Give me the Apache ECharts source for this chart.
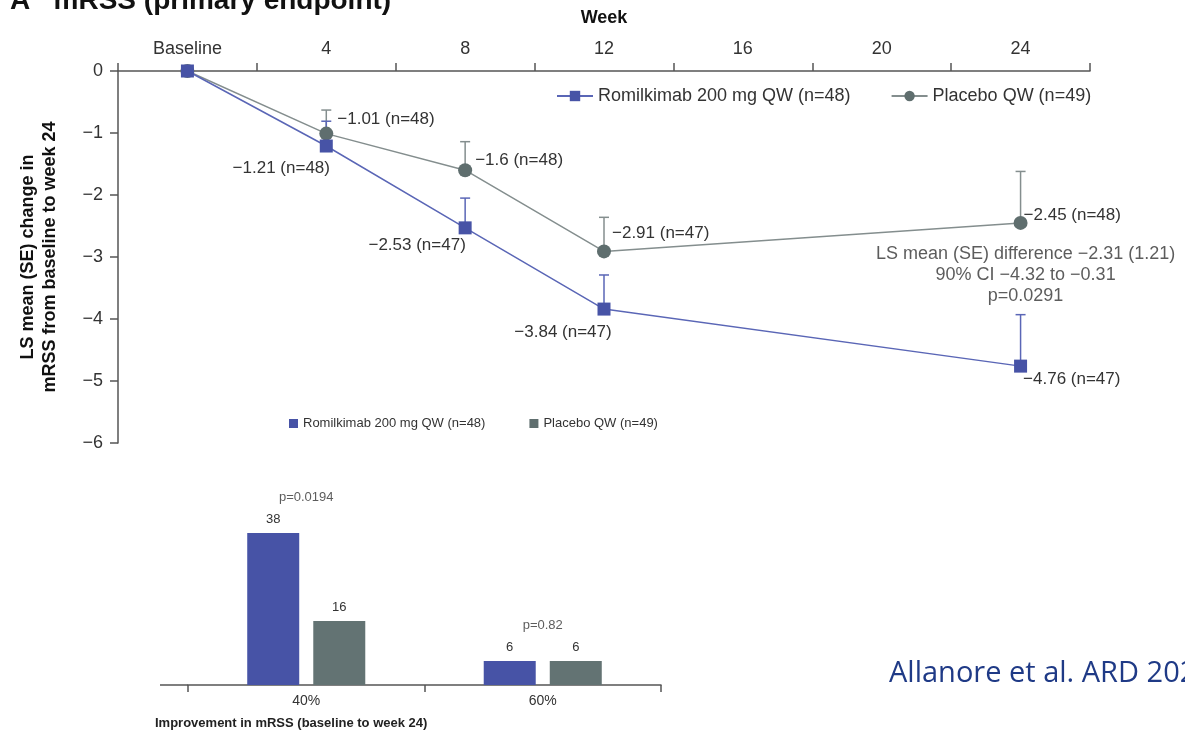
<!DOCTYPE html>
<html>
<head>
<meta charset="utf-8">
<script src="https://cdn.jsdelivr.net/npm/echarts@6/dist/echarts.min.js"></script>
<style>
  html, body { margin: 0; padding: 0; background: #fff; }
  #chart { width: 1185px; height: 731px; }
</style>
</head>
<body>
<div id="chart"></div>
<script>
// ---- mRSS change from baseline (LS mean, SE) ----
const weeks = ['Baseline', '4', '8', '12', '16', '20', '24'];
const romilName = 'Romilkimab 200 mg QW (n=48)';
const placeboName = 'Placebo QW (n=49)';
const romilMean = [0, -1.21, -2.53, -3.84, null, null, -4.76];
const romilSE = [null, 0.40, 0.48, 0.55, null, null, 0.83];
const romilN = [null, 48, 47, 47, null, null, 47];
const placeboMean = [0, -1.01, -1.6, -2.91, null, null, -2.45];
const placeboSE = [null, 0.38, 0.46, 0.55, null, null, 0.83];
const placeboN = [null, 48, 48, 47, null, null, 48];
const week24Note = ['LS mean (SE) difference \u22122.31 (1.21)', '90% CI \u22124.32 to \u22120.31', 'p=0.0291'];

// ---- responders by mRSS improvement at week 24 ----
const improvementCats = ['40%', '60%'];
const romilResponders = [38, 6];
const placeboResponders = [16, 6];
const responderP = ['p=0.0194', 'p=0.82'];

const BLUE = '#4753a6';
const BLUE_LINE = '#5a66b6';
const GREY = '#5f6e6e';
const GREY_LINE = '#848e8e';
const BAR_GREY = '#637373';
const TXT = '#333';
const AXIS = '#555';
const FONT = 'Liberation Sans, Arial, sans-serif';

const minus = v => String(v).replace('-', '\u2212');

// label placement per point (side of the marker + nudge)
const romilLabelPos = [null, ['bottom', [-45, 2]], ['bottom', [-48, -3]], ['bottom', [-41, 3]], null, null, ['right', [-9, 13]]];
const placeboLabelPos = [null, ['right', [-1, -14]], ['right', [-2, -10]], ['right', [-4, -18]], null, null, ['right', [-9, -8]]];

function lineData(means, ns, pos) {
  return means.map((v, i) => {
    if (v === null) return null;
    if (!ns[i]) return { value: v, label: { show: false } };
    return {
      value: v,
      label: {
        show: true, position: pos[i][0], offset: pos[i][1], distance: 5,
        formatter: minus(v) + ' (n=' + ns[i] + ')'
      }
    };
  });
}

function errData(means, se) {
  const out = [];
  means.forEach((v, i) => {
    if (v !== null && se[i] !== null) out.push([i, v, v + se[i]]);
  });
  return out;
}

function errRenderer(color) {
  return function (params, api) {
    const x = api.value(0);
    const p0 = api.coord([x, api.value(1)]);
    const p1 = api.coord([x, api.value(2)]);
    const st = { stroke: color, lineWidth: 1.5 };
    return {
      type: 'group',
      children: [
        { type: 'line', shape: { x1: p0[0], y1: p0[1], x2: p1[0], y2: p1[1] }, style: st },
        { type: 'line', shape: { x1: p1[0] - 5, y1: p1[1], x2: p1[0] + 5, y2: p1[1] }, style: st }
      ]
    };
  };
}

const chart = echarts.init(document.getElementById('chart'), null, { renderer: 'canvas' });

const option = {
  backgroundColor: '#fff',
  animation: false,
  textStyle: { fontFamily: FONT, color: TXT },
  title: [{
    text: 'Improvement in mRSS (baseline to week 24)',
    left: 150, top: 712,
    textStyle: { fontFamily: FONT, fontSize: 13, fontWeight: 'bold', color: '#222' }
  }],
  legend: [{
    data: [romilName, placeboName],
    left: 556, top: 87, padding: 0,
    itemWidth: 36, itemHeight: 13, itemGap: 40,
    textStyle: { fontFamily: FONT, fontSize: 18, color: TXT }
  }, {
    data: [{ name: romilName, icon: 'rect' }, { name: placeboName, icon: 'rect' }],
    left: 284, top: 412,
    itemWidth: 9, itemHeight: 9, itemGap: 44,
    textStyle: { fontFamily: FONT, fontSize: 13, color: TXT }
  }],
  grid: [
    { left: 118, top: 71, width: 972, height: 372, containLabel: false },
    { left: 188, top: 525, width: 473, height: 160, containLabel: false }
  ],
  xAxis: [{
    gridIndex: 0, type: 'category', data: weeks, position: 'top', boundaryGap: true,
    name: 'Week', nameLocation: 'middle', nameGap: 44,
    nameTextStyle: { fontFamily: FONT, fontSize: 18, fontWeight: 'bold', color: '#111' },
    axisLine: { lineStyle: { color: AXIS, width: 1.5 } },
    axisTick: { show: true, length: 8, lineStyle: { color: AXIS, width: 1.5 } },
    axisLabel: { fontSize: 18, color: TXT, margin: 13, interval: 0 },
    splitLine: { show: false }
  }, {
    gridIndex: 1, type: 'category', data: improvementCats, boundaryGap: true,
    axisLine: { lineStyle: { color: AXIS, width: 1.5 } },
    axisTick: { show: true, length: 7, lineStyle: { color: AXIS, width: 1.5 } },
    axisLabel: { fontSize: 14, color: TXT, margin: 9 },
    splitLine: { show: false }
  }],
  yAxis: [{
    gridIndex: 0, type: 'value', min: -6, max: 0, interval: 1,
    name: 'LS mean (SE) change in\nmRSS from baseline to week 24',
    nameLocation: 'middle', nameGap: 57, nameRotate: 90,
    nameTextStyle: { fontFamily: FONT, fontSize: 18, fontWeight: 'bold', color: '#111', lineHeight: 22 },
    axisLine: { show: true, lineStyle: { color: AXIS, width: 1.5 } },
    axisTick: { show: true, length: 8, lineStyle: { color: AXIS, width: 1.5 } },
    axisLabel: { fontSize: 18, color: TXT, margin: 15, formatter: v => minus(v) },
    splitLine: { show: false }
  }, {
    gridIndex: 1, type: 'value', min: 0, max: 40, show: false,
    splitLine: { show: false }
  }],
  series: [
    {
      name: placeboName + ' SE', type: 'custom', xAxisIndex: 0, yAxisIndex: 0, z: 1,
      silent: true, renderItem: errRenderer(GREY_LINE),
      encode: { x: 0, y: [1, 2] }, data: errData(placeboMean, placeboSE)
    },
    {
      name: romilName + ' SE', type: 'custom', xAxisIndex: 0, yAxisIndex: 0, z: 1,
      silent: true, renderItem: errRenderer(BLUE_LINE),
      encode: { x: 0, y: [1, 2] }, data: errData(romilMean, romilSE)
    },
    {
      name: romilName, type: 'line', xAxisIndex: 0, yAxisIndex: 0, z: 4,
      connectNulls: true, symbol: 'rect', symbolSize: 13,
      lineStyle: { color: BLUE_LINE, width: 1.5 },
      itemStyle: { color: BLUE },
      label: { fontFamily: FONT, fontSize: 17, color: TXT },
      data: lineData(romilMean, romilN, romilLabelPos)
    },
    {
      name: placeboName, type: 'line', xAxisIndex: 0, yAxisIndex: 0, z: 3,
      connectNulls: true, symbol: 'circle', symbolSize: 14,
      lineStyle: { color: GREY_LINE, width: 1.5 },
      itemStyle: { color: GREY },
      label: { fontFamily: FONT, fontSize: 17, color: TXT },
      data: lineData(placeboMean, placeboN, placeboLabelPos)
    },
    {
      // week-24 treatment difference note, hung under the placebo point
      name: 'week24-note', type: 'scatter', xAxisIndex: 0, yAxisIndex: 0, z: 5,
      silent: true, symbolSize: 0,
      label: {
        show: true, position: 'bottom', distance: 21, offset: [5, 0],
        fontFamily: FONT, fontSize: 18, color: TXT, lineHeight: 21, align: 'center',
        formatter: week24Note.join('\n')
      },
      data: [[weeks.length - 1, placeboMean[weeks.length - 1]]]
    },
    {
      name: romilName, type: 'bar', xAxisIndex: 1, yAxisIndex: 1,
      barWidth: 52, barGap: '27%',
      itemStyle: { color: BLUE },
      label: { show: true, position: 'top', distance: 7, fontFamily: FONT, fontSize: 13, color: TXT },
      data: romilResponders
    },
    {
      name: placeboName, type: 'bar', xAxisIndex: 1, yAxisIndex: 1,
      barWidth: 52, barGap: '27%',
      itemStyle: { color: BAR_GREY },
      label: { show: true, position: 'top', distance: 7, fontFamily: FONT, fontSize: 13, color: TXT },
      data: placeboResponders
    },
    {
      // p-values above each pair of bars
      name: 'responder-p', type: 'scatter', xAxisIndex: 1, yAxisIndex: 1,
      silent: true, symbolSize: 0,
      label: {
        show: true, position: 'top', distance: 29,
        fontFamily: FONT, fontSize: 13, color: TXT,
        formatter: p => responderP[p.dataIndex]
      },
      data: improvementCats.map((c, i) => [i, Math.max(romilResponders[i], placeboResponders[i])])
    }
  ],
  graphic: [
    {
      type: 'text', left: 10, top: -13, silent: true,
      style: { text: 'A   mRSS (primary endpoint)', fontFamily: FONT, fontSize: 28, fontWeight: 'bold', fill: '#111' }
    },
    {
      // short lead-in of the responder axis line, left of the first tick
      type: 'line', silent: true,
      shape: { x1: 160, y1: 685, x2: 188, y2: 685 },
      style: { stroke: AXIS, lineWidth: 1.5 }
    },
    {
      type: 'text', left: 889, top: 659, silent: true,
      style: { text: 'Allanore et al. ARD 2020', fontFamily: 'Open Sans, Noto Sans, sans-serif', fontSize: 29, fill: '#1f3a86' }
    }
  ]
};

chart.setOption(option);
</script>
</body>
</html>
